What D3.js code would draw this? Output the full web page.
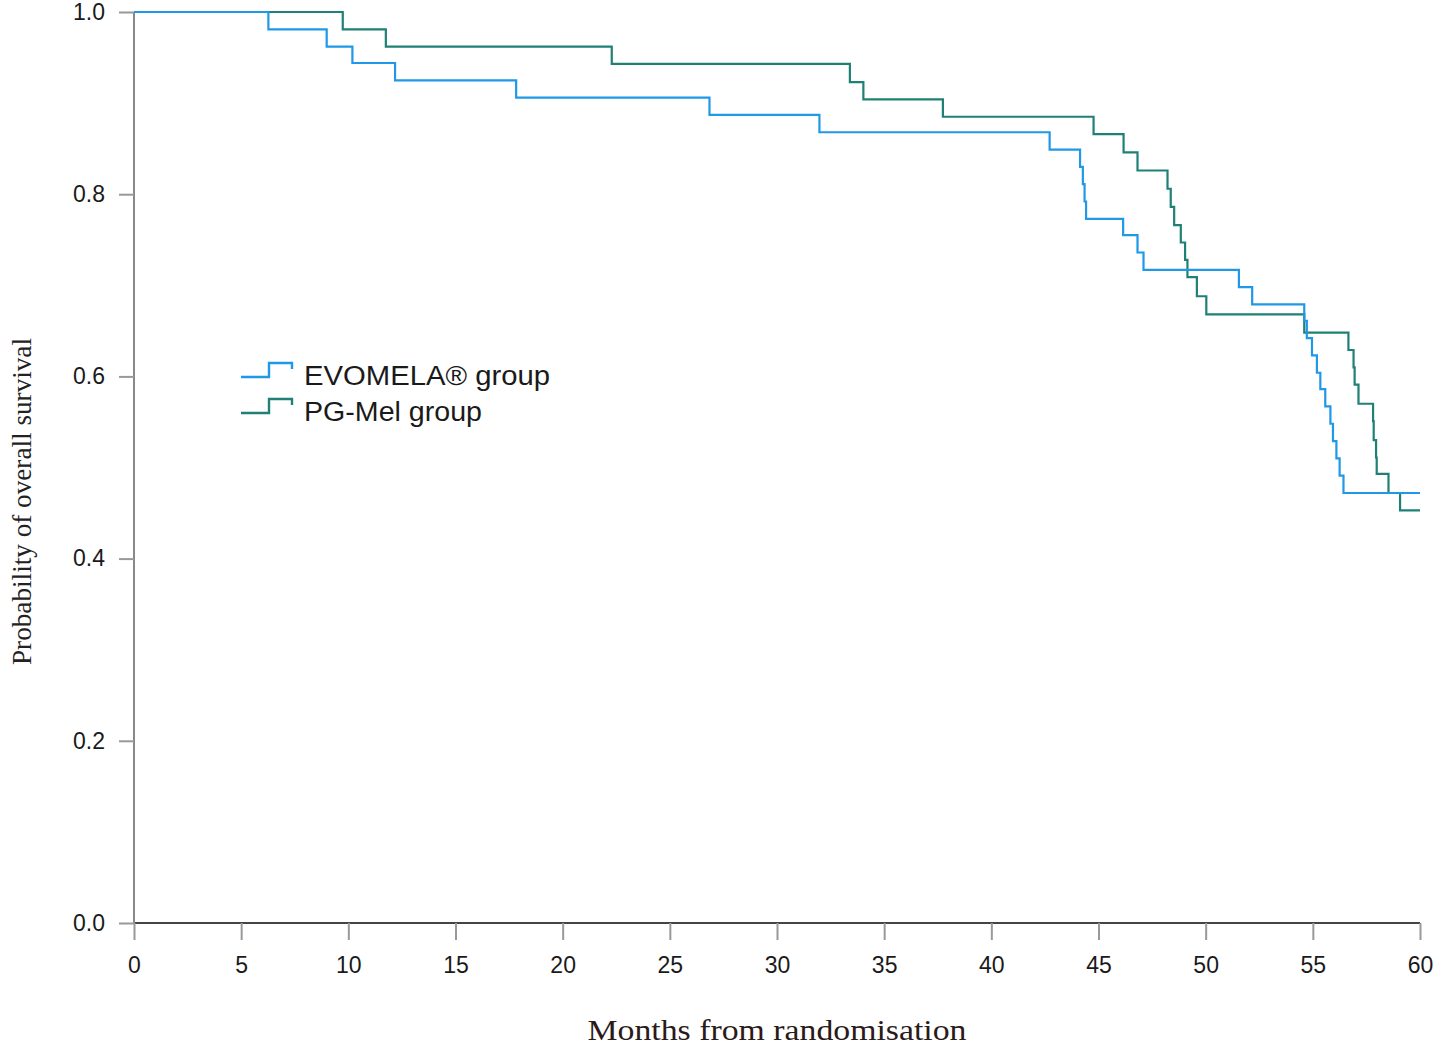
<!DOCTYPE html>
<html>
<head>
<meta charset="utf-8">
<script src="https://cdn.jsdelivr.net/npm/d3@7/dist/d3.min.js"></script>
<style>
html,body{margin:0;padding:0;background:#fff;}
svg{display:block;}
</style>
</head>
<body>
<svg id="chart" width="1441" height="1051"></svg>
<script>
// ---- Data ----
const seriesNames = ["EVOMELA\u00AE group", "PG-Mel group"];
const xTicks = [0, 5, 10, 15, 20, 25, 30, 35, 40, 45, 50, 55, 60];
const yTicks = [0.0, 0.2, 0.4, 0.6, 0.8, 1.0];

const evomelaTimes = [0, 6.27, 8.99, 10.19, 12.18, 17.83, 26.85, 31.98, 42.72, 44.14, 44.27, 44.35, 44.42,
  46.15, 46.82, 47.10, 51.55, 52.17, 54.60, 54.72, 54.96, 55.19, 55.35, 55.58, 55.82, 55.94, 56.10,
  56.25, 56.43, 60];
const evomelaSurv = [1.0, 0.981, 0.962, 0.944, 0.925, 0.906, 0.887, 0.868, 0.849, 0.830, 0.811, 0.792, 0.773,
  0.755, 0.736, 0.717, 0.698, 0.679, 0.661, 0.642, 0.623, 0.604, 0.586, 0.567, 0.548, 0.529, 0.510,
  0.491, 0.472, 0.472];

const pgmelTimes = [0, 9.74, 11.75, 22.29, 33.40, 34.03, 37.74, 44.77, 46.17, 46.82, 48.22, 48.37, 48.53,
  48.84, 49.04, 49.15, 49.59, 50.03, 54.60, 56.66, 56.90, 56.95, 57.13, 57.81, 57.84, 57.95, 57.98,
  58.53, 59.07, 60];
const pgmelSurv = [1.0, 0.981, 0.962, 0.943, 0.923, 0.904, 0.885, 0.866, 0.846, 0.826, 0.806, 0.786, 0.766,
  0.747, 0.728, 0.709, 0.688, 0.668, 0.648, 0.629, 0.610, 0.591, 0.570, 0.551, 0.530, 0.511, 0.493,
  0.472, 0.453, 0.453];

const colors = ["#1f98e8", "#1f8075"];

// ---- Layout ----
const svg = d3.select("#chart");
const x = d3.scaleLinear().domain([0, 60]).range([134, 1420]);
const y = d3.scaleLinear().domain([0, 1]).range([923, 12]);

// Axes
const xAxis = svg.append("g").attr("transform", `translate(0,${y(0)})`)
  .call(d3.axisBottom(x).tickValues(xTicks).tickSize(17).tickPadding(17).tickFormat(d3.format("d")));
xAxis.select(".domain").attr("stroke", "#444").attr("stroke-width", 2).attr("d", `M${x(0)},0H${x(60)}`);
xAxis.selectAll(".tick line").attr("stroke", "#999").attr("stroke-width", 2);
xAxis.selectAll(".tick text").attr("font-family", "Liberation Sans, Arial, sans-serif")
  .attr("font-size", 23).attr("fill", "#1a1a1a");

const yAxis = svg.append("g").attr("transform", `translate(${x(0)},0)`)
  .call(d3.axisLeft(y).tickValues(yTicks).tickSize(15).tickPadding(14).tickFormat(d3.format(".1f")));
yAxis.select(".domain").attr("stroke", "#888").attr("stroke-width", 2).attr("d", `M0,${y(1)}V${y(0)}`);
yAxis.selectAll(".tick line").attr("stroke", "#999").attr("stroke-width", 2);
yAxis.selectAll(".tick text").attr("font-family", "Liberation Sans, Arial, sans-serif")
  .attr("font-size", 23).attr("fill", "#1a1a1a");

// Survival curves
const line = d3.line().x(d => x(d[0])).y(d => y(d[1])).curve(d3.curveStepAfter);
const curves = [
  d3.zip(evomelaTimes, evomelaSurv),
  d3.zip(pgmelTimes, pgmelSurv)
];
// draw green first, blue on top
[1, 0].forEach(i => {
  svg.append("path").datum(curves[i])
    .attr("fill", "none").attr("stroke", colors[i]).attr("stroke-width", 2.2)
    .attr("d", line);
});

// Axis titles
svg.append("text")
  .attr("transform", `translate(31,${(338 + 665) / 2}) rotate(-90)`)
  .attr("text-anchor", "middle")
  .attr("font-family", "Liberation Serif, Times New Roman, serif")
  .attr("font-size", 27).attr("fill", "#222")
  .attr("textLength", 327).attr("lengthAdjust", "spacingAndGlyphs")
  .text("Probability of overall survival");

svg.append("text")
  .attr("x", 777).attr("y", 1040)
  .attr("text-anchor", "middle")
  .attr("font-family", "Liberation Serif, Times New Roman, serif")
  .attr("font-size", 30).attr("fill", "#2a1a1a")
  .attr("textLength", 379).attr("lengthAdjust", "spacingAndGlyphs")
  .text("Months from randomisation");

// Legend
const legend = svg.append("g");
const legendY = [375, 411];
const legendTextW = [246, 178];
seriesNames.forEach((name, i) => {
  const cy = legendY[i];
  legend.append("path")
    .attr("d", `M241,${cy + 2}H269V${cy - 12}H292V${cy - 6}`)
    .attr("fill", "none").attr("stroke", colors[i]).attr("stroke-width", 2.4);
  legend.append("text")
    .attr("x", 304).attr("y", cy + 10)
    .attr("font-family", "Liberation Sans, Arial, sans-serif")
    .attr("font-size", 27).attr("fill", "#1a1a1a")
    .attr("textLength", legendTextW[i]).attr("lengthAdjust", "spacingAndGlyphs")
    .text(name);
});
</script>
</body>
</html>
